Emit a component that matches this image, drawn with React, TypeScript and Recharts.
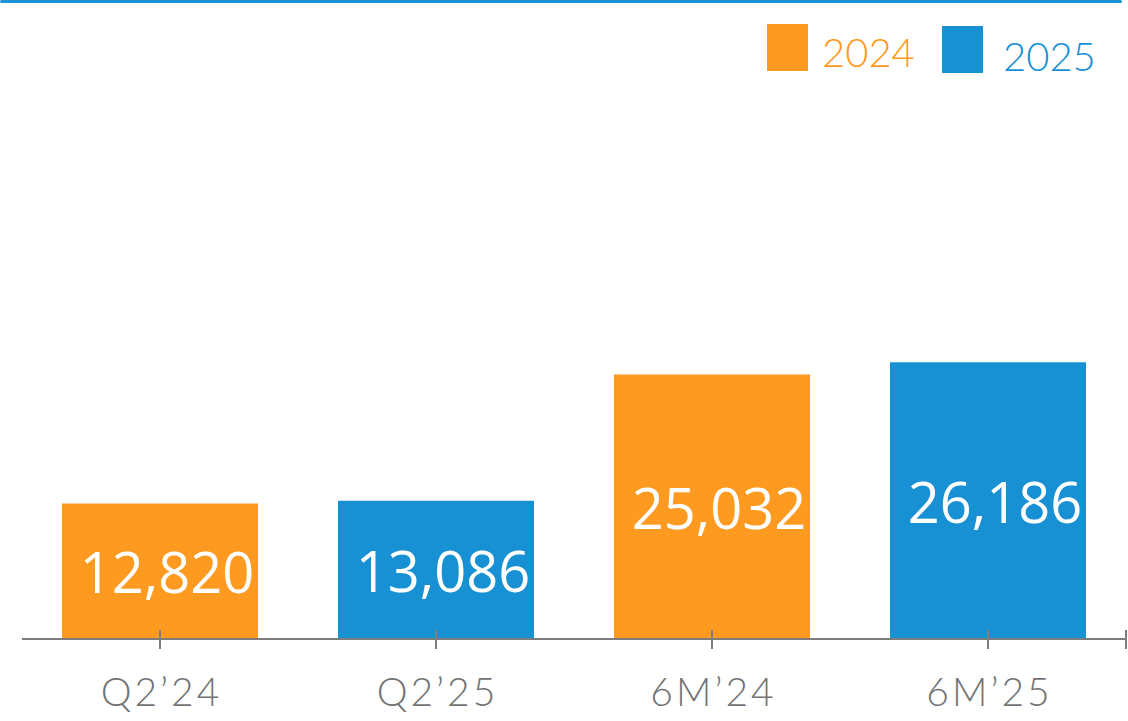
import { BarChart, Bar, XAxis, YAxis, Cell, LabelList } from 'recharts'

const categories = ["Q2’24", "Q2’25", "6M’24", "6M’25"]
const values = [12820, 13086, 25032, 26186]
const years = ['2024', '2025', '2024', '2025']
const legendYears = ['2024', '2025']

const ORANGE = '#FE9A20'
const BLUE = '#1790D4'
const AXIS = '#7d7d7d'
const colorOf = (y: string) => (y === '2024' ? ORANGE : BLUE)

const data = categories.map((c, i) => ({ name: c, value: values[i], year: years[i] }))

const W = 1128
const H = 721
const PLOT_LEFT = 22
const PLOT_RIGHT = 2
const HALF_BAND = (W - PLOT_LEFT - PLOT_RIGHT) / categories.length / 2

function AxisTick(props: any) {
  const { x, y, payload, index } = props
  const last = index === categories.length - 1
  return (
    <g>
      <line x1={x} x2={x} y1={y - 9} y2={y + 10} stroke={AXIS} strokeWidth={2} />
      {last && (
        <line x1={x + HALF_BAND} x2={x + HALF_BAND} y1={y - 9} y2={y + 10} stroke={AXIS} strokeWidth={2} />
      )}
      <text
        x={x + 1.5}
        y={y + 67}
        textAnchor="middle"
        fill="#737373"
        fontFamily="Lato"
        fontWeight={300}
        fontSize={39}
        letterSpacing={3}
      >
        {payload.value}
      </text>
    </g>
  )
}

function ValueLabel(props: any) {
  const { x, y, width, height, value } = props
  return (
    <text
      x={x + width / 2 + 7}
      y={y + height / 2}
      textAnchor="middle"
      dominantBaseline="central"
      fill="#ffffff"
      fontFamily="Open Sans"
      fontSize={56}
    >
      {Number(value).toLocaleString('en-US')}
    </text>
  )
}

function Legend() {
  const items = [
    { x: 767, y: 24, tx: 822, ty: 67 },
    { x: 942, y: 26, tx: 1003, ty: 71 },
  ]
  return (
    <svg width={W} height={90} style={{ position: 'absolute', left: 0, top: 0 }}>
      {legendYears.map((yr, i) => (
        <g key={yr}>
          <rect x={items[i].x} y={items[i].y} width={41} height={47} fill={colorOf(yr)} />
          <text x={items[i].tx} y={items[i].ty} fill={colorOf(yr)} fontFamily="Lato" fontWeight={300} fontSize={40}>
            {yr}
          </text>
        </g>
      ))}
    </svg>
  )
}

export default function App() {
  return (
    <div style={{ position: 'absolute', left: 0, top: 0, width: W, height: H, background: '#fff' }}>
      <div style={{ position: 'absolute', left: 0, top: 0, width: 1122, height: 3, background: '#1C92D6', borderRadius: 2 }} />
      <BarChart
        width={W}
        height={H}
        data={data}
        margin={{ top: 5, right: PLOT_RIGHT, bottom: 0, left: PLOT_LEFT }}
        barCategoryGap={40}
      >
        <YAxis hide domain={[0, 60000]} />
        <XAxis
          dataKey="name"
          height={82}
          axisLine={{ stroke: AXIS, strokeWidth: 2 }}
          tickLine={false}
          tickSize={0}
          tickMargin={0}
          interval={0}
          tick={<AxisTick />}
        />
        <Bar dataKey="value" isAnimationActive={false}>
          {data.map((d) => (
            <Cell key={d.name} fill={colorOf(d.year)} />
          ))}
          <LabelList dataKey="value" content={<ValueLabel />} />
        </Bar>
      </BarChart>
      <Legend />
    </div>
  )
}
